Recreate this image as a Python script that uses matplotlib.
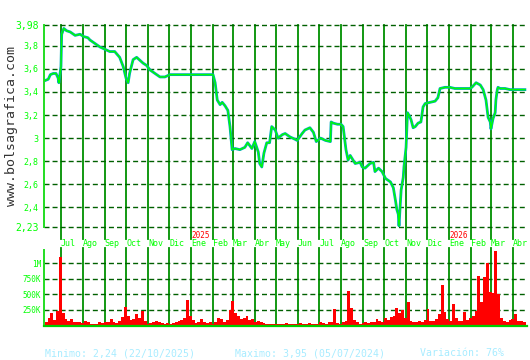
import matplotlib
matplotlib.use('Agg')
import matplotlib.pyplot as plt
import pandas as pd

plt.rcParams['font.family'] = ['DejaVu Sans Mono']

# precio (cierre)
fechas = ['2024-06-09', '2024-06-13', '2024-06-16', '2024-06-20', '2024-06-24', '2024-06-27',
          '2024-06-28', '2024-07-01', '2024-07-02', '2024-07-05', '2024-07-09', '2024-07-14',
          '2024-07-21', '2024-07-28', '2024-08-02', '2024-08-08', '2024-08-11', '2024-08-18',
          '2024-08-25', '2024-09-01', '2024-09-08', '2024-09-15', '2024-09-22', '2024-09-27',
          '2024-10-01', '2024-10-04', '2024-10-06', '2024-10-11', '2024-10-16', '2024-10-25',
          '2024-10-30', '2024-11-04', '2024-11-11', '2024-11-18', '2024-11-25', '2024-12-02',
          '2024-12-16', '2024-12-31', '2025-01-14', '2025-01-28', '2025-02-01', '2025-02-04',
          '2025-02-07', '2025-02-11', '2025-02-14', '2025-02-18', '2025-02-22', '2025-02-25',
          '2025-02-28', '2025-03-04', '2025-03-11', '2025-03-18', '2025-03-22', '2025-03-28',
          '2025-04-01', '2025-04-06', '2025-04-08', '2025-04-11', '2025-04-14', '2025-04-18',
          '2025-04-22', '2025-04-25', '2025-04-30', '2025-05-04', '2025-05-10', '2025-05-14',
          '2025-05-21', '2025-05-28', '2025-05-31', '2025-06-07', '2025-06-11', '2025-06-18',
          '2025-06-23', '2025-06-27', '2025-07-03', '2025-07-10', '2025-07-17', '2025-07-18',
          '2025-07-21', '2025-07-27', '2025-08-01', '2025-08-04', '2025-08-08', '2025-08-11',
          '2025-08-14', '2025-08-21', '2025-08-28', '2025-08-31', '2025-09-04', '2025-09-11',
          '2025-09-16', '2025-09-18', '2025-09-23', '2025-09-28', '2025-10-03', '2025-10-10',
          '2025-10-14', '2025-10-17', '2025-10-19', '2025-10-21', '2025-10-22', '2025-10-25',
          '2025-10-28', '2025-10-29', '2025-11-01', '2025-11-03', '2025-11-05', '2025-11-08',
          '2025-11-11', '2025-11-14', '2025-11-18', '2025-11-22', '2025-11-25', '2025-11-28',
          '2025-12-05', '2025-12-12', '2025-12-16', '2025-12-19', '2025-12-26', '2026-01-02',
          '2026-01-09', '2026-01-16', '2026-01-23', '2026-01-30', '2026-02-02', '2026-02-08',
          '2026-02-14', '2026-02-18', '2026-02-22', '2026-02-25', '2026-02-28', '2026-03-01',
          '2026-03-04', '2026-03-07', '2026-03-08', '2026-03-10', '2026-03-11', '2026-03-14',
          '2026-03-21', '2026-03-28', '2026-04-04', '2026-04-11', '2026-04-18']
precios = [3.50, 3.51, 3.55, 3.56, 3.56, 3.52,
           3.48, 3.62, 3.90, 3.95, 3.93, 3.92,
           3.89, 3.90, 3.88, 3.87, 3.85, 3.82,
           3.79, 3.77, 3.75, 3.75, 3.70, 3.62,
           3.52, 3.48, 3.56, 3.68, 3.70, 3.65,
           3.63, 3.59, 3.56, 3.53, 3.53, 3.55,
           3.55, 3.55, 3.55, 3.55, 3.55, 3.48,
           3.33, 3.29, 3.31, 3.28, 3.24, 3.10,
           2.90, 2.91, 2.90, 2.92, 2.96, 2.91,
           2.97, 2.88, 2.78, 2.75, 2.87, 2.96,
           2.96, 3.10, 3.07, 3.00, 3.03, 3.04,
           3.01, 2.99, 2.98, 3.04, 3.07, 3.09,
           3.05, 2.97, 3.00, 2.98, 2.97, 3.14,
           3.13, 3.12, 3.12, 3.10, 2.90, 2.81,
           2.85, 2.78, 2.79, 2.75, 2.74, 2.78,
           2.79, 2.71, 2.74, 2.71, 2.65, 2.62,
           2.57, 2.46, 2.38, 2.34, 2.24, 2.55,
           2.66, 2.75, 2.92, 3.22, 3.20, 3.16,
           3.09, 3.10, 3.13, 3.14, 3.27, 3.30,
           3.31, 3.32, 3.35, 3.43, 3.44, 3.44,
           3.43, 3.43, 3.43, 3.43, 3.44, 3.48,
           3.46, 3.42, 3.33, 3.18, 3.14, 3.08,
           3.17, 3.22, 3.33, 3.42, 3.44, 3.43,
           3.43, 3.42, 3.42, 3.42, 3.42]

# volumen en miles, bloques de 4 dias desde el 08/06/2024
vol_inicio = '2024-06-08'
volumen = [60, 120, 200, 90, 230, 1100, 200, 100, 70, 110,
           60, 50, 60, 40, 70, 50, 30, 20, 30, 50,
           40, 60, 50, 110, 60, 40, 70, 130, 290, 160,
           90, 110, 190, 120, 240, 80, 30, 40, 60, 70,
           50, 40, 30, 40, 30, 40, 50, 70, 90, 120,
           410, 150, 90, 40, 50, 110, 60, 40, 50, 30,
           60, 120, 100, 60, 90, 250, 390, 200, 150, 110,
           120, 150, 90, 110, 60, 70, 50, 40, 30, 20,
           30, 20, 30, 20, 30, 40, 20, 30, 20, 30,
           40, 30, 20, 40, 30, 20, 30, 60, 40, 30,
           50, 60, 270, 40, 30, 50, 70, 560, 280, 90,
           50, 30, 40, 60, 40, 50, 60, 110, 80, 60,
           120, 90, 130, 150, 280, 200, 250, 120, 380, 80,
           60, 50, 70, 60, 90, 270, 80, 70, 110, 190,
           650, 220, 100, 80, 350, 120, 80, 70, 210, 90,
           120, 150, 240, 800, 375, 770, 1000, 540, 520, 1200,
           500, 120, 80, 60, 90, 100, 180, 70, 80, 60]

meses = ['Jul', 'Ago', 'Sep', 'Oct', 'Nov', 'Dic', 'Ene', 'Feb', 'Mar', 'Abr', 'May', 'Jun']
ticks_precio = [2.23, 2.4, 2.6, 2.8, 3.0, 3.2, 3.4, 3.6, 3.8, 3.98]
etiquetas_precio = ['2,23', '2,4', '2,6', '2,8', '3', '3,2', '3,4', '3,6', '3,8', '3,98']
ticks_vol = [250, 500, 750, 1000]
etiquetas_vol = ['250K', '500K', '750K', '1M']

verde = '#00ff00'
verde_v = '#009000'
verde_h = '#006000'

fechas = pd.to_datetime(fechas)
fechas_vol = pd.date_range(vol_inicio, periods=len(volumen), freq='4D')
inicios_mes = pd.date_range('2024-07-01', '2026-04-01', freq='MS')
x0, x1 = pd.Timestamp('2024-06-07'), pd.Timestamp('2026-04-21')

fig = plt.figure(figsize=(5.3, 3.6), dpi=100)
ax = fig.add_axes([44/530, 1-227/360, 483/530, 202/360])
axv = fig.add_axes([44/530, 1-325.5/360, 483/530, 75.5/360])

# Grafico de precio
for m in inicios_mes:
    ax.axvline(m, ymin=-0.06, ymax=1, color=verde_v, lw=1.3, clip_on=False, zorder=1)
for t in ticks_precio:
    ax.axhline(t, color=verde_h, lw=1.0, dashes=(3.6, 2.2), clip_on=False, zorder=1)
ax.plot(fechas, precios, color='#00a8b8', lw=2.0, zorder=2)
ax.plot(fechas, precios, color=verde, lw=1.0, zorder=3)
ax.set_xlim(x0, x1)
ax.set_ylim(2.23, 3.98)
ax.set_yticks(ticks_precio)
ax.set_yticklabels(etiquetas_precio)
for lab, t in zip(ax.get_yticklabels(), ticks_precio):
    lab.set_fontsize(7 if t in (2.23, 3.98) else 6)
ax.set_xticks([])
ax.tick_params(axis='y', length=0, colors=verde, pad=4)
for s in ['top', 'right', 'bottom']:
    ax.spines[s].set_visible(False)
ax.spines['left'].set_color('#22dd22')
ax.spines['left'].set_linewidth(1.4)

# etiquetas de meses y años
for m in inicios_mes:
    ax.text(m, -0.083, meses[(m.month - 7) % 12], transform=ax.get_xaxis_transform(),
            ha='left', va='center', fontsize=6, color=verde, clip_on=False)
    if m.month == 1:
        ax.text(m, -0.043, str(m.year), transform=ax.get_xaxis_transform(),
                ha='left', va='center', fontsize=5.5, color='red', clip_on=False)

# Grafico de volumen
for m in inicios_mes:
    axv.axvline(m, ymin=0, ymax=1.03, color=verde_v, lw=1.3, clip_on=False, zorder=1)
for t in ticks_vol:
    axv.axhline(t, color=verde_h, lw=1.0, dashes=(3.6, 2.2), zorder=1)
axv.bar(fechas_vol, volumen, width=4, align='edge', color='red', lw=0, zorder=2)
axv.set_xlim(x0, x1)
axv.set_ylim(0, 1210)
axv.set_yticks(ticks_vol)
axv.set_yticklabels(etiquetas_vol)
axv.set_xticks([])
axv.tick_params(axis='y', length=0, colors=verde, labelsize=5.5, pad=2)
for s in ['top', 'right']:
    axv.spines[s].set_visible(False)
axv.spines['left'].set_color('#22dd22')
axv.spines['bottom'].set_color('#00cc00')
axv.spines['left'].set_linewidth(1.4)
axv.spines['bottom'].set_linewidth(1.6)

# textos
fig.text(12/530, 1-126.5/360, 'www.bolsagrafica.com', rotation=90, ha='center', va='center',
         fontsize=9.5, color='#333333')
cian = '#a8ecff'
fig.text(45/530, 1-353/360, 'Minimo: 2,24 (22/10/2025)', fontsize=7.1, color=cian, va='center')
fig.text(235/530, 1-353/360, 'Maximo: 3,95 (05/07/2024)', fontsize=7.1, color=cian, va='center')
fig.text(420/530, 1-353/360, 'Variación: 76%', fontsize=7.1, color=cian, va='center')

fig.savefig('out.png', dpi=100)
